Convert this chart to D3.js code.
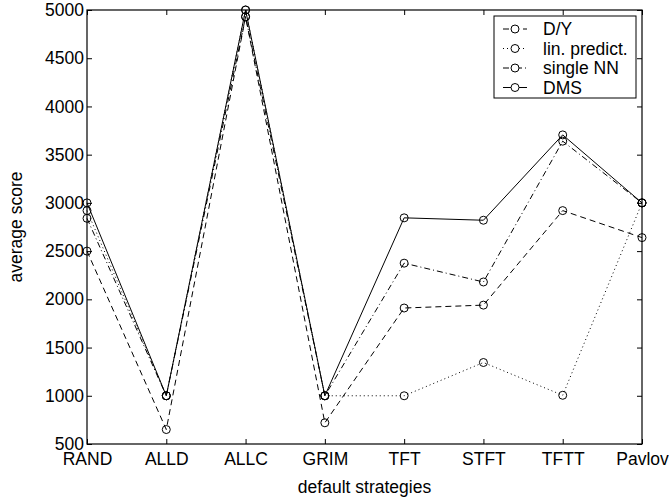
<!DOCTYPE html>
<html>
<head>
<meta charset="utf-8">
<script src="https://cdn.jsdelivr.net/npm/d3@7"></script>
<style>
  body { margin: 0; background: #fff; }
  text { font-family: "Liberation Sans", Arial, sans-serif; fill: #000; }
</style>
</head>
<body>
<svg id="chart" width="669" height="500"></svg>
<script>
const strategies = ['RAND', 'ALLD', 'ALLC', 'GRIM', 'TFT', 'STFT', 'TFTT', 'Pavlov'];
const dyScores = [2500, 650, 4930, 720, 1910, 1940, 2920, 2640];
const linPredictScores = [2920, 1000, 5000, 1000, 1000, 1345, 1005, 3000];
const singleNNScores = [2840, 1000, 4930, 1000, 2375, 2180, 3640, 3000];
const dmsScores = [3000, 1000, 5000, 1000, 2845, 2820, 3705, 3000];
const yTicks = [500, 1000, 1500, 2000, 2500, 3000, 3500, 4000, 4500, 5000];

const series = [
  { name: 'D/Y', values: dyScores, dash: '6,4' },
  { name: 'lin. predict.', values: linPredictScores, dash: '1,3' },
  { name: 'single NN', values: singleNNScores, dash: '6,3,1,3' },
  { name: 'DMS', values: dmsScores, dash: null }
];

const plotL = 87, plotR = 642, plotT = 10, plotB = 444;
const fontSize = 17.5;
const svg = d3.select('#chart');

const x = d3.scalePoint().domain(strategies).range([plotL, plotR]);
const y = d3.scaleLinear().domain([500, 5000]).range([plotB, plotT]);

// box
svg.append('rect')
  .attr('x', plotL).attr('y', plotT)
  .attr('width', plotR - plotL).attr('height', plotB - plotT)
  .attr('fill', 'none').attr('stroke', '#000').attr('stroke-width', 1.2);

// inward ticks on all four sides
const tickLen = 5;
svg.append('g').attr('transform', `translate(0,${plotB})`)
  .call(d3.axisBottom(x).tickSize(-tickLen).tickPadding(9).tickSizeOuter(0))
  .call(g => g.select('.domain').remove())
  .call(g => g.selectAll('text').attr('font-size', fontSize));
svg.append('g').attr('transform', `translate(0,${plotT})`)
  .call(d3.axisTop(x).tickSize(-tickLen).tickFormat('').tickSizeOuter(0))
  .call(g => g.select('.domain').remove());
svg.append('g').attr('transform', `translate(${plotL},0)`)
  .call(d3.axisLeft(y).tickValues(yTicks).tickSize(-tickLen).tickPadding(3).tickFormat(d3.format('d')))
  .call(g => g.select('.domain').remove())
  .call(g => g.selectAll('text').attr('font-size', fontSize));
svg.append('g').attr('transform', `translate(${plotR},0)`)
  .call(d3.axisRight(y).tickValues(yTicks).tickSize(-tickLen).tickFormat(''))
  .call(g => g.select('.domain').remove());

// lines and markers
const line = d3.line()
  .x((d, i) => x(strategies[i]))
  .y(d => y(d));

series.forEach(s => {
  svg.append('path')
    .attr('d', line(s.values))
    .attr('fill', 'none')
    .attr('stroke', '#000')
    .attr('stroke-width', 1)
    .attr('stroke-dasharray', s.dash);
  svg.append('g').selectAll('circle')
    .data(s.values)
    .join('circle')
    .attr('cx', (d, i) => x(strategies[i]))
    .attr('cy', d => y(d))
    .attr('r', 4)
    .attr('fill', 'none')
    .attr('stroke', '#000')
    .attr('stroke-width', 1);
});

// axis titles
svg.append('text')
  .attr('x', (plotL + plotR) / 2).attr('y', 493)
  .attr('text-anchor', 'middle').attr('font-size', fontSize)
  .text('default strategies');
svg.append('text')
  .attr('transform', `translate(22,${(plotT + plotB) / 2}) rotate(-90)`)
  .attr('text-anchor', 'middle').attr('font-size', fontSize)
  .text('average score');

// legend
const legend = svg.append('g');
legend.append('rect')
  .attr('x', 494).attr('y', 16).attr('width', 142).attr('height', 82)
  .attr('fill', '#fff').attr('stroke', '#000').attr('stroke-width', 1);
series.forEach((s, i) => {
  const ly = 29 + i * 19.5;
  legend.append('line')
    .attr('x1', 503).attr('x2', 527).attr('y1', ly).attr('y2', ly)
    .attr('stroke', '#000').attr('stroke-dasharray', s.dash);
  legend.append('circle')
    .attr('cx', 515).attr('cy', ly).attr('r', 4)
    .attr('fill', '#fff').attr('stroke', '#000');
  legend.append('text')
    .attr('x', 543).attr('y', ly + 6)
    .attr('font-size', fontSize)
    .text(s.name);
});
</script>
</body>
</html>
